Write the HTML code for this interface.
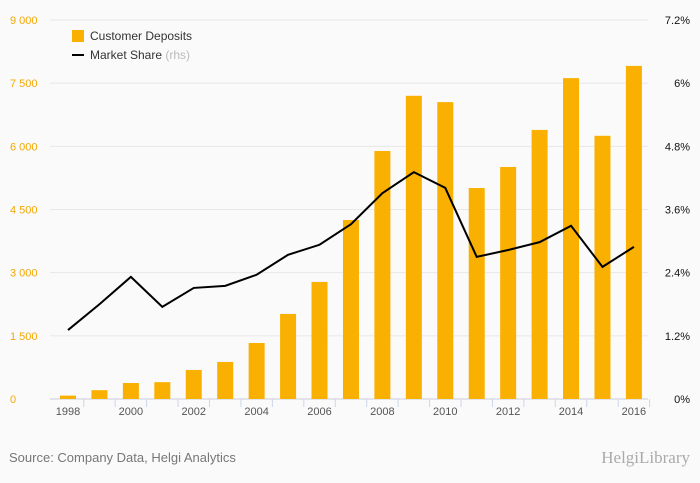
<!DOCTYPE html>
<html><head><meta charset="utf-8"><style>
body{margin:0;width:700px;height:483px;background:#fafafa;font-family:"Liberation Sans",sans-serif;overflow:hidden;position:relative}
#src{position:absolute;left:9px;top:450px;font-size:13px;color:#777}
#logo{position:absolute;right:10px;top:448px;font-size:17px;color:#aaa;font-family:"Liberation Serif",serif}
</style></head><body>
<svg id="chart" width="700" height="432" style="position:absolute;left:0;top:0"></svg>
<div id="src">Source: Company Data, Helgi Analytics</div>
<div id="logo">HelgiLibrary</div>
<script>
const years=[1998,1999,2000,2001,2002,2003,2004,2005,2006,2007,2008,2009,2010,2011,2012,2013,2014,2015,2016];
const deposits=[80,210,380,400,690,880,1330,2020,2780,4250,5890,7200,7050,5010,5510,6390,7620,6250,7910];
const share=[1.31,1.80,2.32,1.75,2.11,2.15,2.36,2.74,2.93,3.32,3.91,4.31,4.01,2.70,2.83,2.98,3.29,2.51,2.89];
const leftTicks=[0,1500,3000,4500,6000,7500,9000];
const leftTickLabels=["0","1 500","3 000","4 500","6 000","7 500","9 000"];
const rightTicks=[0,1.2,2.4,3.6,4.8,6,7.2];
const rightTickLabels=["0%","1.2%","2.4%","3.6%","4.8%","6%","7.2%"];
const NS="http://www.w3.org/2000/svg";
const svg=document.getElementById('chart');
const x0=68,dx=31.44,yTop=20,yBot=399;
const xs=i=>x0+i*dx;
const yl=v=>yBot-v/9000*(yBot-yTop);
const yr=v=>yBot-v/7.2*(yBot-yTop);
function mk(t,a){const e=document.createElementNS(NS,t);for(const k in a)e.setAttribute(k,a[k]);svg.appendChild(e);return e;}
leftTicks.forEach((v,i)=>{
 const g=mk('line',{x1:50,x2:648,y1:yl(v),y2:yl(v),stroke:v===0?'#ccd':'#e8e8e8','stroke-width':1});
 
 
 const t=mk('text',{x:10,y:yl(v)+4,'font-size':11,fill:'#f5a800'});t.textContent=leftTickLabels[i];
 
 
});
rightTicks.forEach((v,i)=>{
 const t=mk('text',{x:690,y:yr(v)+4,'font-size':11,fill:'#111','text-anchor':'end'});t.textContent=rightTickLabels[i];
 
 
});
years.forEach((y,i)=>{
 const b=mk('rect',{x:xs(i)-8,y:yl(deposits[i]),width:16,height:yBot-yl(deposits[i]),fill:'#fab000'});
 
 
 if(i%2===0){const t=mk('text',{x:xs(i),y:415,'font-size':11,fill:'#555','text-anchor':'middle'});t.textContent=y;
 
 }
 const tk=mk('line',{x1:xs(i)+dx/2,x2:xs(i)+dx/2,y1:399,y2:407,stroke:'#ccd6eb'});
 
 
});
const p=mk('polyline',{points:share.map((v,i)=>xs(i)+','+yr(v)).join(' '),fill:'none',stroke:'#000','stroke-width':2});


const l1=mk('rect',{x:72,y:30,width:12,height:12,fill:'#fab000'});


const t1=mk('text',{x:90,y:40,'font-size':12,fill:'#333'});t1.textContent='Customer Deposits';


const l2=mk('line',{x1:72,x2:84,y1:55,y2:55,stroke:'#000','stroke-width':2});


const t2=mk('text',{x:90,y:59,'font-size':12,fill:'#333'});t2.innerHTML='Market Share <tspan fill="#bbb">(rhs)</tspan>';


</script>
</body></html>
